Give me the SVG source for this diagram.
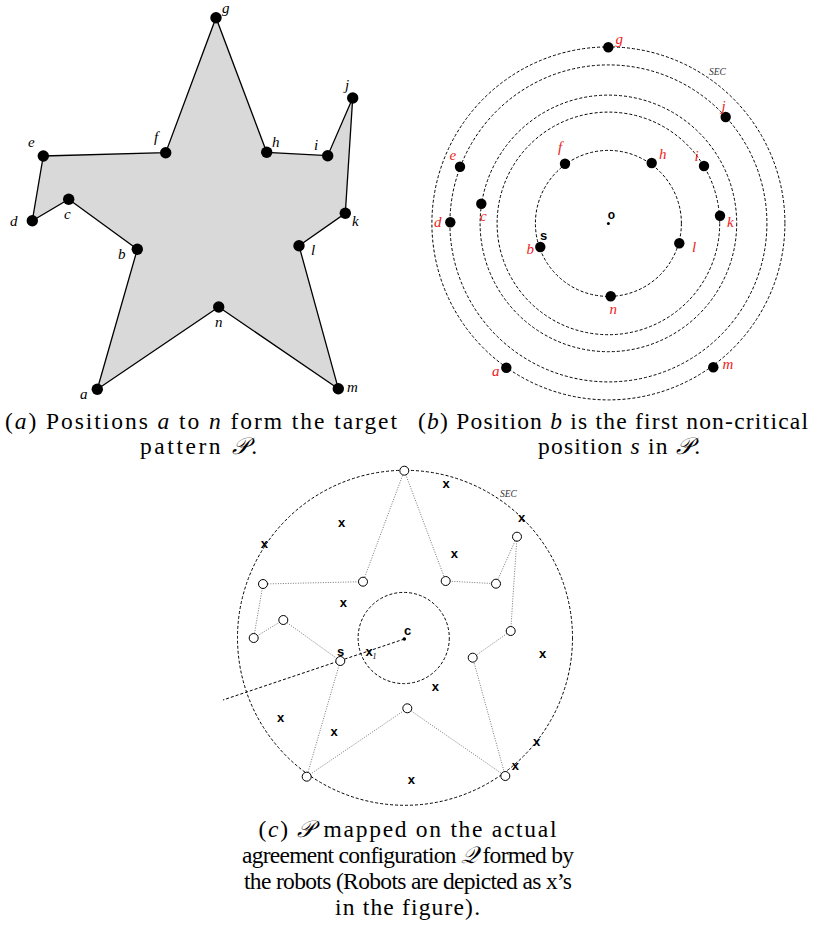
<svg xmlns="http://www.w3.org/2000/svg" width="818" height="932" viewBox="0 0 818 932">
<style>
.dot{fill:#000}
.lab{font-family:"Liberation Serif","DejaVu Serif",serif;font-style:italic;font-size:15px;fill:#000}
.rlab{font-family:"Liberation Serif","DejaVu Serif",serif;font-style:italic;font-size:15px;fill:#ee2222}
.dash{fill:none;stroke:#000;stroke-width:1;stroke-dasharray:3 2}
.sec{font-family:"Liberation Serif","DejaVu Serif",serif;font-style:italic;font-size:9.5px;fill:#333}
.bold{font-family:"Liberation Sans","DejaVu Sans",sans-serif;font-weight:bold;font-size:13px;fill:#000;text-anchor:middle}
.ring{fill:#fff;stroke:#000;stroke-width:1}
.dotted{fill:none;stroke:#777;stroke-width:1;stroke-dasharray:1 1.5}
.cap{font-family:"Liberation Serif","DejaVu Serif",serif;font-size:23.5px;fill:#000;text-anchor:middle}
.it{font-style:italic}
</style>

<!-- Panel (a) -->
<g id="a-edges">
<polygon points="97.3,389.3 137.3,249.3 68.7,199.3 32.3,220.7 43.3,156 165.7,152.7 216,17.7 266.7,152.3 327.7,155.7 352.7,98 345.3,213.3 299,245.7 338.3,388.7 218.7,307" fill="#d9d9d9" stroke="#000" stroke-width="1.3" stroke-linejoin="miter"/>
</g>
<g id="a-a"><circle class="dot" cx="97.3" cy="389.3" r="5.7"/><text class="lab" x="80" y="399">a</text></g>
<g id="a-b"><circle class="dot" cx="137.3" cy="249.3" r="5.7"/><text class="lab" x="118" y="259">b</text></g>
<g id="a-c"><circle class="dot" cx="68.7" cy="199.3" r="5.7"/><text class="lab" x="64" y="219">c</text></g>
<g id="a-d"><circle class="dot" cx="32.3" cy="220.7" r="5.7"/><text class="lab" x="10" y="226">d</text></g>
<g id="a-e"><circle class="dot" cx="43.3" cy="156" r="5.7"/><text class="lab" x="28" y="147">e</text></g>
<g id="a-f"><circle class="dot" cx="165.7" cy="152.7" r="5.7"/><text class="lab" x="154" y="142">f</text></g>
<g id="a-g"><circle class="dot" cx="216" cy="17.7" r="5.7"/><text class="lab" x="222" y="13">g</text></g>
<g id="a-h"><circle class="dot" cx="266.7" cy="152.3" r="5.7"/><text class="lab" x="272" y="147">h</text></g>
<g id="a-i"><circle class="dot" cx="327.7" cy="155.7" r="5.7"/><text class="lab" x="314" y="150">i</text></g>
<g id="a-j"><circle class="dot" cx="352.7" cy="98" r="5.7"/><text class="lab" x="345" y="90">j</text></g>
<g id="a-k"><circle class="dot" cx="345.3" cy="213.3" r="5.7"/><text class="lab" x="352" y="226">k</text></g>
<g id="a-l"><circle class="dot" cx="299" cy="245.7" r="5.7"/><text class="lab" x="311" y="255">l</text></g>
<g id="a-m"><circle class="dot" cx="338.3" cy="388.7" r="5.7"/><text class="lab" x="347" y="392">m</text></g>
<g id="a-n"><circle class="dot" cx="218.7" cy="307" r="5.7"/><text class="lab" x="215" y="327">n</text></g>

<!-- Panel (b) -->
<g id="b-circles">
<circle class="dash" cx="608.4" cy="223.4" r="176.5"/>
<circle class="dash" cx="608.4" cy="223.4" r="158.5"/>
<circle class="dash" cx="608.4" cy="223.4" r="128.3"/>
<circle class="dash" cx="608.4" cy="223.4" r="111.3"/>
<circle class="dash" cx="608.4" cy="223.4" r="73"/>
<text class="sec" x="709" y="75">SEC</text>
</g>
<g id="b-o"><circle class="dot" cx="608.4" cy="223.4" r="1.5"/><text class="bold" x="611.5" y="219" style="font-size:12px">o</text></g>
<g id="b-a"><circle class="dot" cx="506.3" cy="367.7" r="5.2"/><text class="rlab" x="492" y="376">a</text></g>
<g id="b-b"><circle class="dot" cx="540.3" cy="247" r="5.2"/><text class="rlab" x="526.5" y="254">b</text><text class="bold" x="543.5" y="239.5">s</text></g>
<g id="b-c"><circle class="dot" cx="481.3" cy="203.7" r="5.2"/><text class="rlab" x="480" y="221">c</text></g>
<g id="b-d"><circle class="dot" cx="450.3" cy="222.3" r="5.2"/><text class="rlab" x="434" y="227">d</text></g>
<g id="b-e"><circle class="dot" cx="460" cy="166.7" r="5.2"/><text class="rlab" x="449.5" y="160">e</text></g>
<g id="b-f"><circle class="dot" cx="565" cy="163.7" r="5.2"/><text class="rlab" x="558" y="152">f</text></g>
<g id="b-g"><circle class="dot" cx="608.3" cy="47.3" r="5.2"/><text class="rlab" x="615.5" y="44">g</text></g>
<g id="b-h"><circle class="dot" cx="651.7" cy="163" r="5.2"/><text class="rlab" x="659" y="159">h</text></g>
<g id="b-i"><circle class="dot" cx="704" cy="166" r="5.2"/><text class="rlab" x="694.5" y="161">i</text></g>
<g id="b-j"><circle class="dot" cx="725.7" cy="117" r="5.2"/><text class="rlab" x="721.5" y="111">j</text></g>
<g id="b-k"><circle class="dot" cx="720" cy="215.7" r="5.2"/><text class="rlab" x="727" y="227">k</text></g>
<g id="b-l"><circle class="dot" cx="679.3" cy="243.3" r="5.2"/><text class="rlab" x="692" y="252">l</text></g>
<g id="b-m"><circle class="dot" cx="713.3" cy="367.3" r="5.2"/><text class="rlab" x="722.5" y="369">m</text></g>
<g id="b-n"><circle class="dot" cx="610.7" cy="296.3" r="5.2"/><text class="rlab" x="609.5" y="314">n</text></g>

<!-- Panel (c) -->
<g id="c-circles">
<circle class="dash" cx="405" cy="637.8" r="167.5"/>
<circle class="dash" cx="403.7" cy="638" r="45.6"/>
<text class="sec" x="500" y="497">SEC</text>
</g>
<g id="c-connectors">
<polygon class="dotted" points="306.7,776.7 340.3,661 283.3,620 253.7,638 263,584 363,581.7 404.3,470.7 445.7,581 496,583.7 517,536.7 510.7,631 472.7,657.7 505.3,776 407.3,708.3"/>
<line x1="404.3" y1="639" x2="223" y2="700" stroke="#000" stroke-width="1" stroke-dasharray="3 2"/>
</g>
<g id="c-center"><circle class="dot" cx="404.3" cy="639" r="1.8"/><text class="bold" x="407.5" y="634.5">c</text></g>
<g id="c-a"><circle class="ring" cx="306.7" cy="776.7" r="4.5"/></g>
<g id="c-b"><circle class="ring" cx="340.3" cy="661" r="4.5"/><text class="bold" x="340.5" y="655.5">s</text></g>
<g id="c-c"><circle class="ring" cx="283.3" cy="620" r="4.5"/></g>
<g id="c-d"><circle class="ring" cx="253.7" cy="638" r="4.5"/></g>
<g id="c-e"><circle class="ring" cx="263" cy="584" r="4.5"/></g>
<g id="c-f"><circle class="ring" cx="363" cy="581.7" r="4.5"/></g>
<g id="c-g"><circle class="ring" cx="404.3" cy="470.7" r="4.5"/></g>
<g id="c-h"><circle class="ring" cx="445.7" cy="581" r="4.5"/></g>
<g id="c-i"><circle class="ring" cx="496" cy="583.7" r="4.5"/></g>
<g id="c-j"><circle class="ring" cx="517" cy="536.7" r="4.5"/></g>
<g id="c-k"><circle class="ring" cx="510.7" cy="631" r="4.5"/></g>
<g id="c-l"><circle class="ring" cx="472.7" cy="657.7" r="4.5"/></g>
<g id="c-m"><circle class="ring" cx="505.3" cy="776" r="4.5"/></g>
<g id="c-n"><circle class="ring" cx="407.3" cy="708.3" r="4.5"/></g>
<g id="robots" class="bold">
<text x="446" y="488">x</text>
<text x="341.7" y="526.7">x</text>
<text x="521.7" y="522.3">x</text>
<text x="264.3" y="548.3">x</text>
<text x="454.3" y="557.7">x</text>
<text x="343.3" y="606.7">x</text>
<text x="371" y="655.7">x<tspan style="font-family:'Liberation Serif',serif;font-weight:normal;font-style:italic;font-size:8px" dy="3">1</tspan></text>
<text x="542.7" y="658.3">x</text>
<text x="435.3" y="691.3">x</text>
<text x="280.7" y="721.7">x</text>
<text x="334" y="735.7">x</text>
<text x="536.7" y="745.7">x</text>
<text x="515.3" y="769.7">x</text>
<text x="411.3" y="784">x</text>
</g>

<!-- Captions -->
<g id="captions">
<text class="cap" x="201" y="429" textLength="392">(<tspan class="it">a</tspan>) Positions <tspan class="it">a</tspan> to <tspan class="it">n</tspan> form the target</text>
<text class="cap" x="198.5" y="454" textLength="117">pattern <tspan class="it">𝒫</tspan>.</text>
<text class="cap" x="613" y="429" textLength="390">(<tspan class="it">b</tspan>) Position <tspan class="it">b</tspan> is the first non-critical</text>
<text class="cap" x="619" y="454" textLength="162">position <tspan class="it">s</tspan> in <tspan class="it">𝒫</tspan>.</text>
<text class="cap" x="407.5" y="837" textLength="298">(<tspan class="it">c</tspan>) <tspan class="it">𝒫</tspan> mapped on the actual</text>
<text class="cap" x="408" y="863" textLength="332">agreement configuration <tspan class="it">𝒬</tspan> formed by</text>
<text class="cap" x="408" y="889" textLength="328">the robots (Robots are depicted as x’s</text>
<text class="cap" x="407.5" y="915" textLength="145">in the figure).</text>
</g>
</svg>
